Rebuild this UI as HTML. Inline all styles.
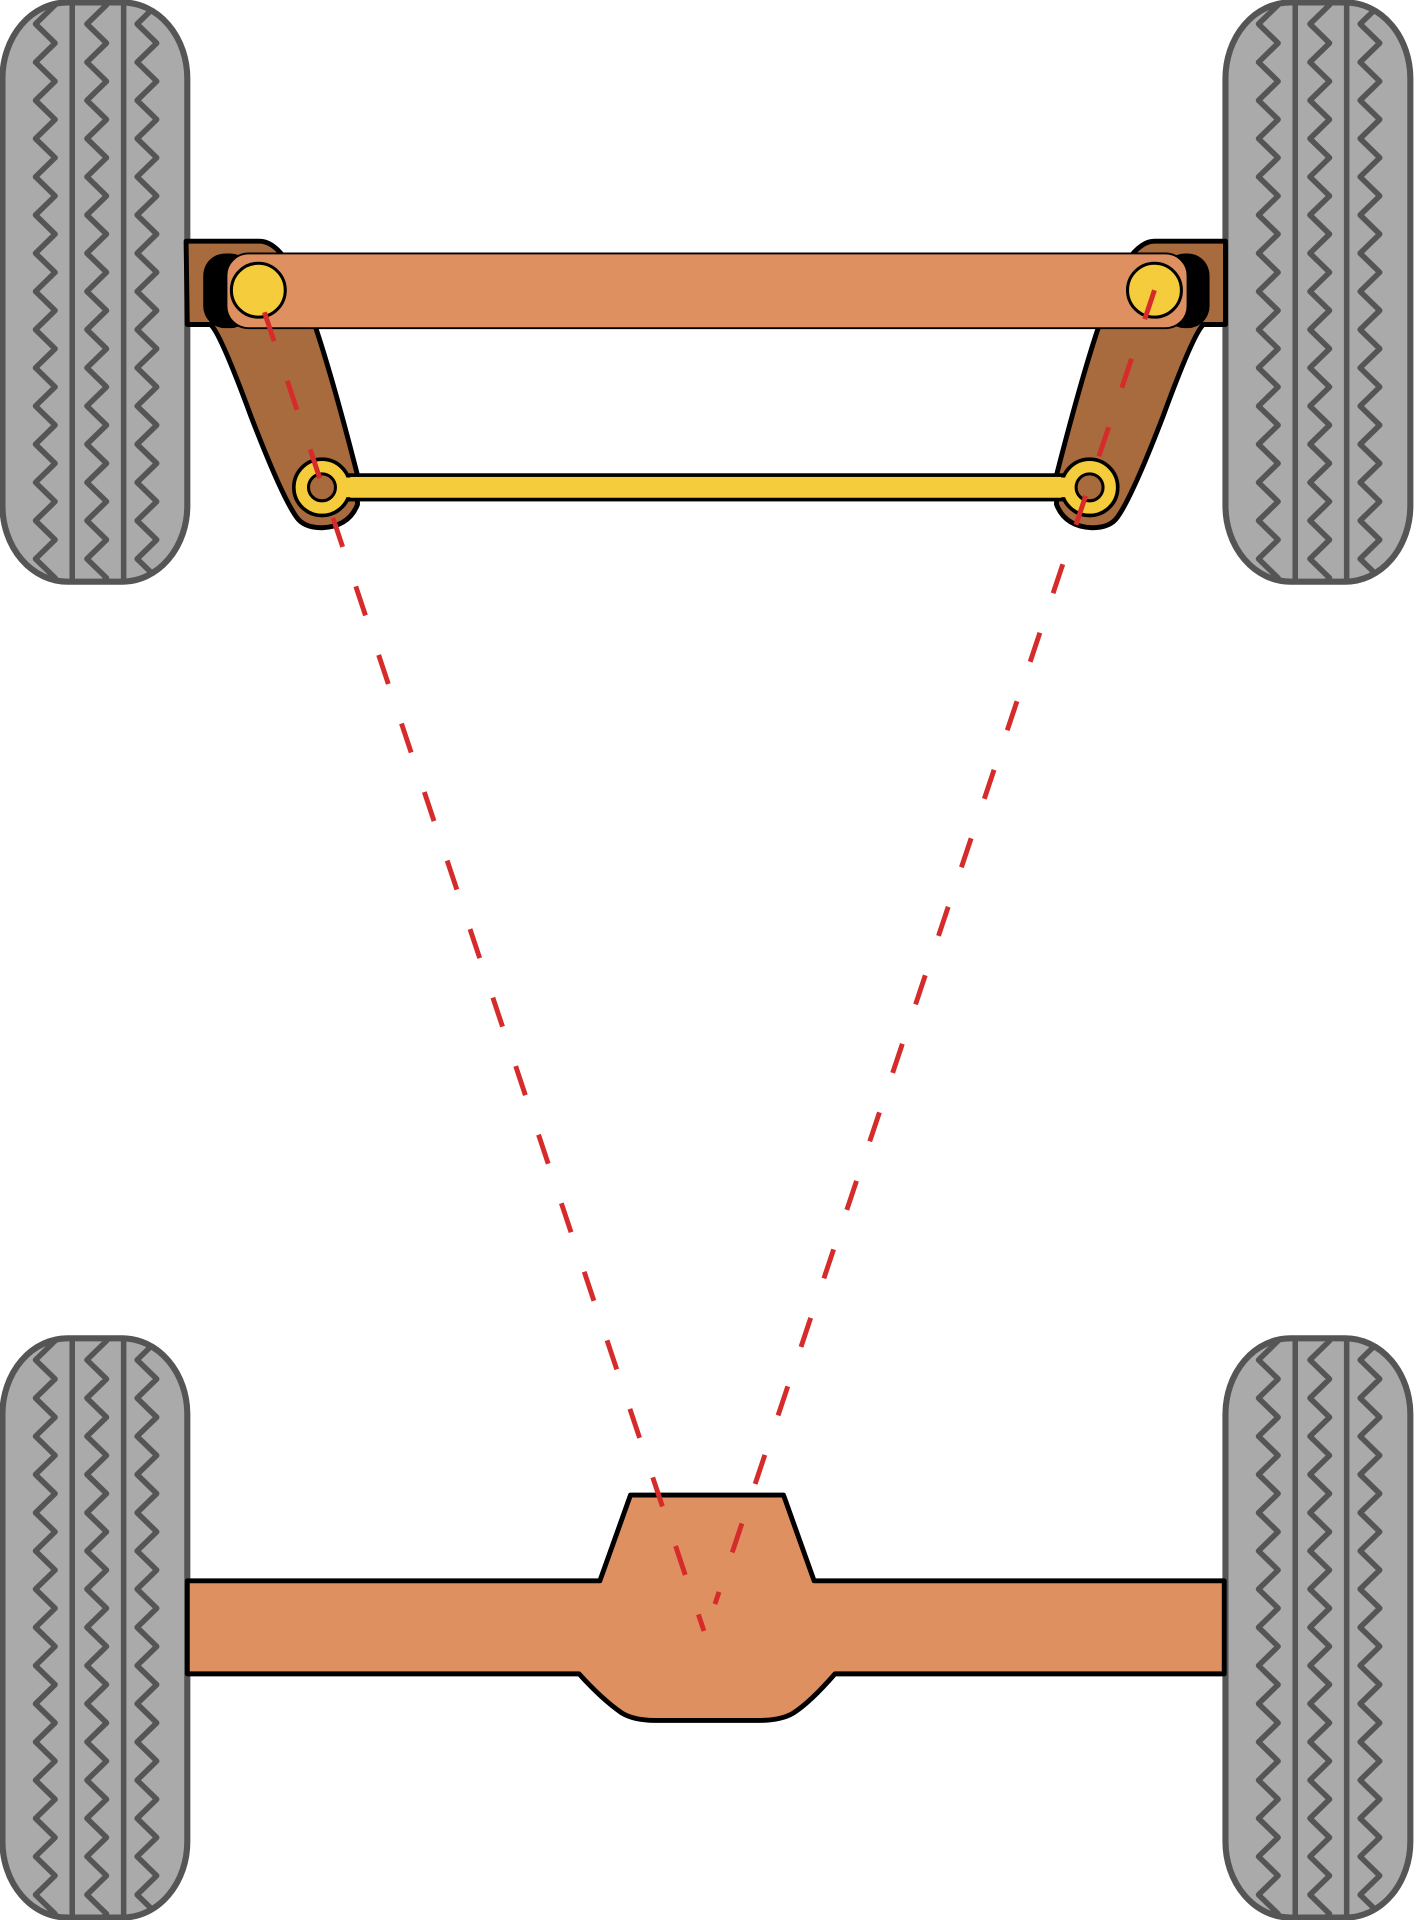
<!DOCTYPE html>
<html><head><meta charset="utf-8"><style>html,body{margin:0;padding:0;background:#fff}svg{display:block}</style></head>
<body>
<svg id="s" width="1414" height="1920" viewBox="0 0 1155 1568" preserveAspectRatio="none" xmlns="http://www.w3.org/2000/svg">
<defs></defs>
<g id="tires"></g>
<path d="M153,1291 H490 L515,1221 H640 L665,1291 H1000 V1367 H682 Q662,1390 648,1399 Q638,1405 620,1405 H535 Q518,1405 508,1399 Q492,1388 473,1367 H153 Z" fill="#df9060" stroke="#000" stroke-width="4" stroke-linejoin="round"/>
<path d="M152,197 H212 Q222,197 232,210 L258,268 Q272,310 292,388 L292,412 Q285,430 263,431 Q248,431 242,422 Q230,405 205,340 Q180,272 172,265 H153 Z" fill="#a86b3e" stroke="#000" stroke-width="4" stroke-linejoin="round"/>
<path d="M1001,197 H943 Q933,197 923,210 L897,268 Q883,310 863,388 L863,412 Q870,430 892,431 Q907,431 913,422 Q925,405 950,340 Q975,272 983,265 H1001 Z" fill="#a86b3e" stroke="#000" stroke-width="4" stroke-linejoin="round"/>
<rect x="166" y="207" width="40" height="61" rx="18" fill="#000"/>
<rect x="950" y="207" width="38" height="61" rx="18" fill="#000"/>
<rect x="185" y="207" width="785" height="61" rx="18" fill="#df9060" stroke="#000" stroke-width="1.5"/>
<circle cx="211" cy="237" r="22" fill="#f5cd3c" stroke="#000" stroke-width="2.5"/>
<circle cx="943" cy="237" r="22" fill="#f5cd3c" stroke="#000" stroke-width="2.5"/>
<rect x="270" y="388" width="615" height="20" fill="#f5cd3c" stroke="#000" stroke-width="3"/>
<circle cx="263" cy="398" r="23" fill="#f5cd3c" stroke="#000" stroke-width="3"/>
<circle cx="890" cy="398" r="23" fill="#f5cd3c" stroke="#000" stroke-width="3"/>
<rect x="282" y="390" width="591" height="16" fill="#f5cd3c"/>
<circle cx="263" cy="398" r="11" fill="#a86b3e" stroke="#000" stroke-width="2.5"/>
<circle cx="890" cy="398" r="11" fill="#a86b3e" stroke="#000" stroke-width="2.5"/>
<line x1="216" y1="255" x2="575" y2="1332" stroke="#d62b2b" stroke-width="4" stroke-dasharray="25,34"/>
<line x1="943" y1="237" x2="584" y2="1310" stroke="#d62b2b" stroke-width="4" stroke-dasharray="25,34"/>
</svg>
<script>
var NS="http://www.w3.org/2000/svg",g=document.getElementById('tires'),defs=document.querySelector('defs');
function tire(x,y,id){
 var w=151,h=473,rx=53,ry=62;
 var d="M"+(x+rx)+","+y+" H"+(x+w-rx)+" A"+rx+" "+ry+" 0 0 1 "+(x+w)+","+(y+ry)+" V"+(y+h-ry)+" A"+rx+" "+ry+" 0 0 1 "+(x+w-rx)+","+(y+h)+" H"+(x+rx)+" A"+rx+" "+ry+" 0 0 1 "+x+","+(y+h-ry)+" V"+(y+ry)+" A"+rx+" "+ry+" 0 0 1 "+(x+rx)+","+y+" Z";
 var cp=document.createElementNS(NS,'clipPath');cp.id=id;var p=document.createElementNS(NS,'path');p.setAttribute('d',d);cp.appendChild(p);defs.appendChild(cp);
 var b=document.createElementNS(NS,'path');b.setAttribute('d',d);b.setAttribute('fill','#aaa');g.appendChild(b);
 var gg=document.createElementNS(NS,'g');gg.setAttribute('clip-path','url(#'+id+')');g.appendChild(gg);
 [27,69,110].forEach(function(cx){
  var s="M"+(x+cx)+","+(y-6);var k=0;
  for(var yy=y+2;yy<y+h+20;yy+=15.6){k++;s+=" L"+(x+cx+(k%2?16:0))+","+yy;}
  var z=document.createElementNS(NS,'path');z.setAttribute('d',s);z.setAttribute('fill','none');z.setAttribute('stroke','#555');z.setAttribute('stroke-width','4.5');z.setAttribute('stroke-linejoin','round');gg.appendChild(z);
 });
 [57,99].forEach(function(lx){var l=document.createElementNS(NS,'line');l.setAttribute('x1',x+lx);l.setAttribute('x2',x+lx);l.setAttribute('y1',y);l.setAttribute('y2',y+h);l.setAttribute('stroke','#555');l.setAttribute('stroke-width','4.5');gg.appendChild(l);});
 var o=document.createElementNS(NS,'path');o.setAttribute('d',d);o.setAttribute('fill','none');o.setAttribute('stroke','#555');o.setAttribute('stroke-width','5');g.appendChild(o);
}
tire(2,2,'c1');tire(1001,2,'c2');tire(2,1093,'c3');tire(1001,1093,'c4');
</script>
</body></html>
